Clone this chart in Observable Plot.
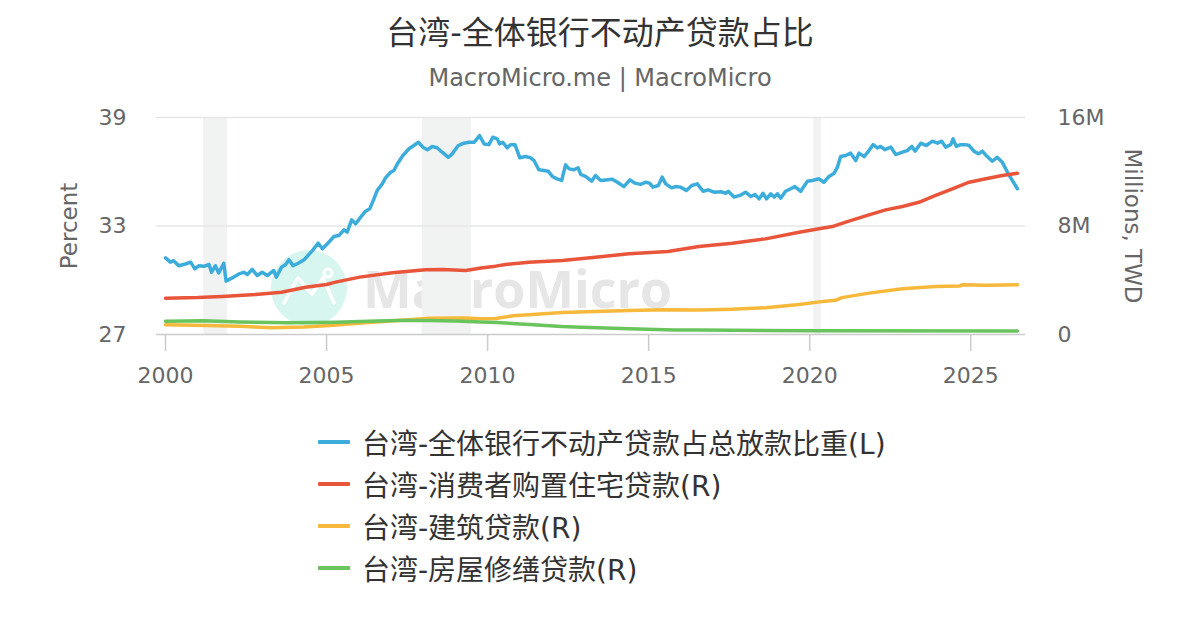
<!DOCTYPE html>
<html><head><meta charset="utf-8">
<script src="https://cdn.jsdelivr.net/npm/d3@7"></script>
<script src="https://cdn.jsdelivr.net/npm/@observablehq/plot@0.6"></script>
<style>
body{margin:0;background:#fff;font-family:"DejaVu Sans","Noto Sans CJK SC",sans-serif;}
#wrap{position:relative;width:1200px;height:630px;overflow:hidden;background:#fff;}
#title{position:absolute;left:0;width:1200px;top:13px;text-align:center;font-size:32px;line-height:40px;color:#333;}
#subtitle{position:absolute;left:0;width:1200px;top:63px;text-align:center;font-size:24px;line-height:30px;color:#666;}
#wm{position:absolute;left:0;top:0;}
#chart{position:absolute;left:0;top:100px;}
#legend{position:absolute;left:318px;top:421px;}
.row{display:flex;align-items:center;height:42px;font-size:28px;color:#333;white-space:nowrap;}
.sw{width:32px;height:4px;margin-right:12px;border-radius:1px;}
</style></head><body>
<div id="wrap">
  <div id="title">台湾-全体银行不动产贷款占比</div>
  <div id="subtitle">MacroMicro.me | MacroMicro</div>
  <svg id="wm" width="1200" height="630">
    <circle cx="309" cy="288" r="38" fill="#d6f6ef"/>
    <polyline points="284,303 298,278 312,294 323,278 334,303" fill="none" stroke="#fff" stroke-width="3.5" stroke-linejoin="round" stroke-linecap="round"/>
    <circle cx="328" cy="273" r="4" fill="none" stroke="#fff" stroke-width="3"/>
    <text x="363" y="308" font-family="Open Sans" font-weight="bold" font-size="52" fill="#e6e6e6" textLength="309" lengthAdjust="spacingAndGlyphs">MacroMicro</text>
  </svg>
  <div id="chart"></div>
  <div id="legend"></div>
</div>
<script>
// ---- Data ----
const seriesNames = [
  "台湾-全体银行不动产贷款占总放款比重(L)",
  "台湾-消费者购置住宅贷款(R)",
  "台湾-建筑贷款(R)",
  "台湾-房屋修缮贷款(R)"
];
const seriesColors = ["#3caddb", "#e8553b", "#f6b93b", "#6ac45e"];

// Left axis: share of total loans, percent
const blueYears = [2000.00,2000.15,2000.25,2000.41,2000.62,2000.78,2000.91,2001.03,2001.19,2001.35,2001.43,2001.55,2001.65,2001.81,2001.88,2002.07,2002.28,2002.43,2002.54,2002.69,2002.85,2003.00,2003.16,2003.36,2003.44,2003.60,2003.73,2003.83,2003.96,2004.12,2004.30,2004.56,2004.74,2004.87,2005.02,2005.23,2005.38,2005.54,2005.64,2005.78,2005.90,2006.06,2006.21,2006.34,2006.47,2006.57,2006.73,2006.83,2006.99,2007.09,2007.20,2007.37,2007.56,2007.71,2007.85,2007.99,2008.13,2008.28,2008.43,2008.59,2008.78,2008.90,2009.09,2009.26,2009.42,2009.58,2009.75,2009.89,2010.04,2010.16,2010.30,2010.37,2010.47,2010.61,2010.71,2010.85,2011.00,2011.18,2011.34,2011.44,2011.59,2011.75,2011.88,2012.01,2012.16,2012.30,2012.42,2012.53,2012.68,2012.81,2012.89,2013.04,2013.23,2013.35,2013.51,2013.66,2013.87,2014.03,2014.23,2014.42,2014.57,2014.75,2014.90,2015.03,2015.13,2015.30,2015.42,2015.53,2015.71,2015.84,2015.99,2016.17,2016.34,2016.51,2016.69,2016.85,2017.03,2017.24,2017.39,2017.47,2017.65,2017.83,2018.01,2018.17,2018.30,2018.43,2018.55,2018.66,2018.79,2018.90,2019.00,2019.10,2019.25,2019.41,2019.54,2019.72,2019.93,2020.08,2020.29,2020.44,2020.60,2020.76,2020.86,2020.96,2021.12,2021.27,2021.43,2021.53,2021.69,2021.84,2021.97,2022.10,2022.20,2022.33,2022.52,2022.67,2022.88,2023.03,2023.17,2023.27,2023.45,2023.62,2023.81,2023.97,2024.10,2024.22,2024.38,2024.45,2024.55,2024.69,2024.84,2024.95,2025.10,2025.24,2025.36,2025.51,2025.67,2025.82,2025.98,2026.14,2026.29,2026.45];
const bluePct = [31.24,31.00,31.08,30.80,30.90,31.00,30.63,30.80,30.77,30.87,30.45,30.80,30.40,30.94,29.95,30.13,30.35,30.44,30.32,30.60,30.26,30.44,30.26,30.54,30.17,30.72,30.87,31.13,30.81,30.94,31.13,31.64,32.05,31.74,32.01,32.42,32.47,32.79,32.66,33.34,33.12,33.49,33.82,33.95,34.50,34.96,35.33,35.66,35.97,36.07,36.44,36.90,37.27,37.45,37.63,37.36,37.22,37.40,37.33,37.08,36.80,36.99,37.45,37.58,37.63,37.63,38.00,37.54,37.50,37.91,37.82,37.54,37.63,37.32,37.50,37.50,36.77,36.84,36.77,36.62,36.11,36.07,36.03,35.74,35.61,35.52,36.38,36.16,36.11,36.22,35.85,35.74,35.48,35.79,35.52,35.55,35.59,35.42,35.18,35.55,35.37,35.30,35.42,35.37,35.15,35.24,35.70,35.33,35.11,35.18,35.15,34.96,35.24,35.33,34.92,35.00,34.87,34.90,34.81,34.92,34.60,34.69,34.87,34.63,34.74,34.50,34.81,34.50,34.78,34.60,34.78,34.54,34.92,35.06,35.18,34.92,35.48,35.52,35.61,35.42,35.74,35.92,36.25,36.84,36.90,37.03,36.62,37.03,36.84,37.17,37.50,37.32,37.40,37.22,37.36,36.95,37.08,37.17,37.40,37.14,37.58,37.45,37.69,37.58,37.69,37.36,37.50,37.82,37.40,37.50,37.50,37.45,37.14,36.99,37.14,36.84,36.58,36.80,36.53,35.97,35.52,35.06];

// Right axis: outstanding loans, millions TWD (shown in M = million of millions)
const redYears = [2000.0,2001.0,2001.76,2002.8,2003.6,2004.35,2005.0,2005.28,2006.03,2007.04,2008.07,2008.6,2009.32,2009.8,2010.25,2010.56,2011.28,2012.32,2013.35,2014.39,2015.6,2016.56,2017.6,2018.63,2019.67,2020.29,2020.7,2021.12,2021.84,2022.36,2022.88,2023.39,2023.91,2024.43,2024.95,2025.47,2025.98,2026.45];
const redM = [2.68,2.72,2.80,2.95,3.12,3.49,3.69,3.86,4.23,4.55,4.77,4.80,4.72,4.90,5.04,5.16,5.33,5.46,5.70,5.95,6.12,6.49,6.73,7.05,7.54,7.79,7.96,8.28,8.82,9.19,9.44,9.75,10.25,10.74,11.23,11.48,11.72,11.89];

const orangeYears = [2000.0,2001.3,2002.3,2003.3,2004.3,2005.1,2006.0,2007.2,2008.2,2009.3,2009.8,2010.25,2010.8,2011.28,2012.32,2013.35,2014.39,2015.5,2016.56,2017.6,2018.63,2019.67,2020.5,2020.8,2021.0,2021.84,2022.88,2023.91,2024.65,2024.74,2025.5,2026.45];
const orangeM = [0.72,0.66,0.60,0.50,0.55,0.66,0.82,1.03,1.20,1.22,1.16,1.18,1.38,1.45,1.62,1.70,1.77,1.82,1.80,1.86,1.97,2.21,2.46,2.52,2.72,3.05,3.37,3.54,3.57,3.66,3.64,3.66];

const greenYears = [2000.0,2001.2,2002.3,2003.8,2005.3,2006.3,2007.2,2008.2,2009.0,2009.8,2010.3,2011.3,2012.3,2012.9,2014.4,2015.8,2016.6,2018.6,2020.0,2026.45];
const greenM = [0.98,1.02,0.92,0.86,0.91,0.98,1.03,1.03,1.00,0.92,0.88,0.74,0.59,0.54,0.42,0.34,0.33,0.29,0.27,0.25];

// Shaded periods (recessions)
const bandStart = [2001.19, 2007.97, 2020.13];
const bandEnd   = [2001.92, 2009.49, 2020.36];

const xTicks = [2000, 2005, 2010, 2015, 2020, 2025];
const leftTicks = [27, 33, 39];
const rightTickLabels = ["0", "8M", "16M"];

// ---- Build tables ----
const leftMin = 27, leftMax = 39, rightMax = 16;
const toLeft = m => leftMin + m * (leftMax - leftMin) / rightMax;
const zip = (xs, ys, f) => xs.map((x, i) => ({x, y: f(ys[i])}));
const blue = zip(blueYears, bluePct, v => v);
const red = zip(redYears, redM, toLeft);
const orange = zip(orangeYears, orangeM, toLeft);
const green = zip(greenYears, greenM, toLeft);
const bands = bandStart.map((s, i) => ({s, e: bandEnd[i]}));

const font = '"DejaVu Sans","Noto Sans CJK SC",sans-serif';
const lineOpts = (c) => ({x: "x", y: "y", stroke: c, strokeWidth: 3.5, strokeLinejoin: "round", strokeLinecap: "round"});

const chart = Plot.plot({
  width: 1200, height: 300,
  marginTop: 17, marginBottom: 66, marginLeft: 156, marginRight: 175,
  style: {background: "transparent", fontFamily: font, fontSize: "22px", color: "#666", overflow: "visible"},
  x: {domain: [1999.72, 2026.7]},
  y: {domain: [leftMin, leftMax]},
  marks: [
    Plot.rect(bands, {x1: "s", x2: "e", fill: "#f1f2f2"}),
    Plot.gridY(leftTicks.slice(1), {stroke: "#e6e6e6", strokeOpacity: 1, strokeWidth: 1.5}),
    Plot.ruleY([leftMin], {stroke: "#cccccc", strokeWidth: 1.5}),
    Plot.axisX(xTicks, {tickFormat: "d", tickSize: 17, tickPadding: 16, stroke: "#cccccc", strokeWidth: 1.5, fill: "#666", fontSize: 22, label: null}),
    Plot.axisY(leftTicks, {anchor: "left", tickSize: 0, tickPadding: 30, fill: "#666", fontSize: 22, label: null}),
    Plot.axisY(leftTicks, {anchor: "right", tickSize: 0, tickPadding: 32, fill: "#666", fontSize: 22, label: null,
      tickFormat: d => rightTickLabels[leftTicks.indexOf(d)]}),
    Plot.text(["Percent"], {text: d => d, frameAnchor: "left", textAnchor: "middle", rotate: -90, dx: -87, fontSize: 23, fill: "#666"}),
    Plot.text(["Millions, TWD"], {text: d => d, frameAnchor: "right", textAnchor: "middle", rotate: 90, dx: 107, fontSize: 23, fill: "#666"}),
    Plot.line(blue, lineOpts(seriesColors[0])),
    Plot.line(red, lineOpts(seriesColors[1])),
    Plot.line(orange, lineOpts(seriesColors[2])),
    Plot.line(green, lineOpts(seriesColors[3]))
  ]
});
document.getElementById("chart").appendChild(chart);

const legend = document.getElementById("legend");
seriesNames.forEach((n, i) => {
  const row = document.createElement("div");
  row.className = "row";
  const sw = document.createElement("div");
  sw.className = "sw";
  sw.style.background = seriesColors[i];
  const t = document.createElement("span");
  t.textContent = n;
  row.appendChild(sw); row.appendChild(t);
  legend.appendChild(row);
});
</script>
</body></html>
